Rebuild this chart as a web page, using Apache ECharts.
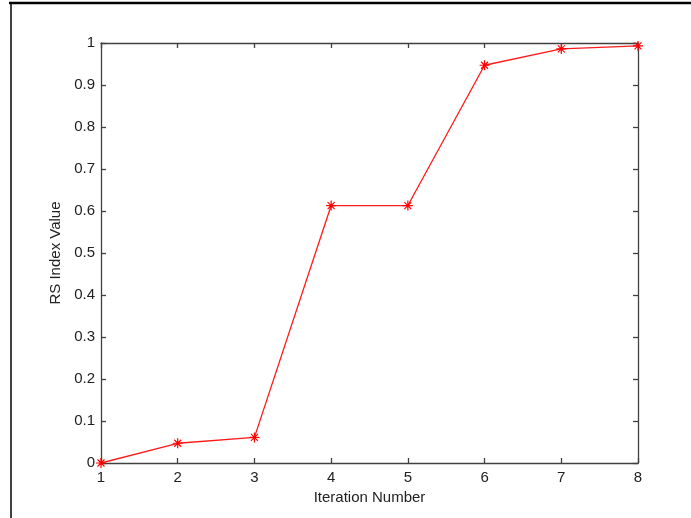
<!DOCTYPE html>
<html>
<head>
<meta charset="utf-8">
<script src="https://cdn.jsdelivr.net/npm/echarts@6/dist/echarts.min.js"></script>
<style>html,body{margin:0;padding:0;background:#fff}#c{width:691px;height:518px}</style>
</head>
<body>
<div id="c"></div>
<script>
var iterations = [1, 2, 3, 4, 5, 6, 7, 8];
var rsIndex = [0, 0.047, 0.061, 0.613, 0.613, 0.947, 0.986, 0.993];
var yTicks = [0, 0.1, 0.2, 0.3, 0.4, 0.5, 0.6, 0.7, 0.8, 0.9, 1];

var chart = echarts.init(document.getElementById('c'));
var star = 'path://M-0.6,-5 L0.6,-5 L0.6,5 L-0.6,5 Z M-5,-0.6 L5,-0.6 L5,0.6 L-5,0.6 Z M-3.1,-3.9 L3.9,3.1 L3.1,3.9 L-3.9,-3.1 Z M3.1,-3.9 L3.9,-3.1 L-3.1,3.9 L-3.9,3.1 Z';
var font = 'Liberation Sans, Arial, sans-serif';
var axisLineStyle = {color: '#404040', width: 1.3};
chart.setOption({
  animation: false,
  grid: {left: 101, right: 53, top: 43, bottom: 55, show: false},
  xAxis: [{
    type: 'value', min: 1, max: 8, interval: 1,
    name: 'Iteration Number', nameLocation: 'middle', nameGap: 24,
    nameTextStyle: {color: '#222', fontSize: 15, fontFamily: font},
    axisLine: {show: true, onZero: false, lineStyle: axisLineStyle},
    axisTick: {show: true, inside: true, length: 5, lineStyle: axisLineStyle},
    axisLabel: {color: '#222', fontSize: 15, fontFamily: font, margin: 7},
    splitLine: {show: false}
  }, {
    type: 'value', min: 1, max: 8, interval: 1, position: 'top',
    axisLine: {show: true, onZero: false, lineStyle: axisLineStyle},
    axisTick: {show: true, inside: true, length: 5, lineStyle: axisLineStyle},
    axisLabel: {show: false}, splitLine: {show: false}
  }],
  yAxis: [{
    type: 'value', min: 0, max: 1, interval: 0.1,
    name: 'RS Index Value', nameLocation: 'middle', nameGap: 34, nameRotate: 90,
    nameTextStyle: {color: '#222', fontSize: 15, fontFamily: font},
    axisLine: {show: true, onZero: false, lineStyle: axisLineStyle},
    axisTick: {show: true, inside: true, length: 5, lineStyle: axisLineStyle},
    axisLabel: {color: '#222', fontSize: 15, fontFamily: font, margin: 6,
      formatter: function (v) { var i = yTicks.indexOf(Math.round(v * 10) / 10); return i >= 0 ? String(yTicks[i]) : ''; }},
    splitLine: {show: false}
  }, {
    type: 'value', min: 0, max: 1, interval: 0.1, position: 'right',
    axisLine: {show: true, onZero: false, lineStyle: axisLineStyle},
    axisTick: {show: true, inside: true, length: 5, lineStyle: axisLineStyle},
    axisLabel: {show: false}, splitLine: {show: false}
  }],
  series: [{
    type: 'line',
    data: iterations.map(function (x, i) { return [x, rsIndex[i]]; }),
    lineStyle: {color: '#ff1a1a', width: 1.3},
    itemStyle: {color: '#ff0000'},
    symbol: star, symbolSize: 10, showSymbol: true,
    clip: false, z: 5
  }],
  graphic: [
    {type: 'line', shape: {x1: 9, y1: 3, x2: 691, y2: 3}, style: {stroke: '#000', lineWidth: 2.5}},
    {type: 'line', shape: {x1: 11, y1: 3, x2: 11, y2: 518}, style: {stroke: '#000', lineWidth: 1.5}}
  ]
});
</script>
</body>
</html>
